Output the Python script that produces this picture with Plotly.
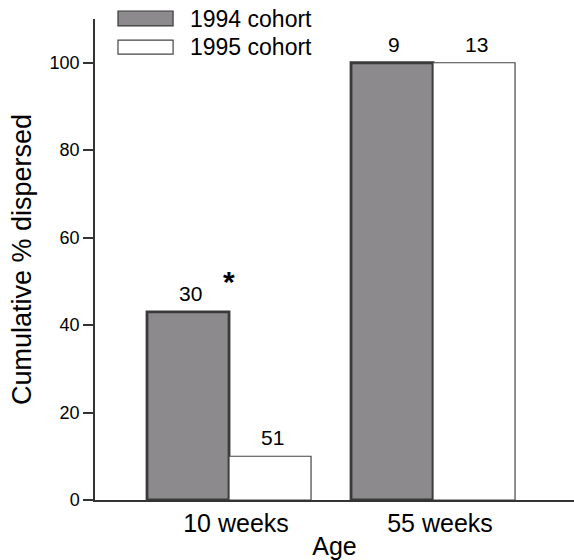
import plotly.graph_objects as go

# Age classes and cumulative dispersal (%) per cohort
ages = ["10 weeks", "55 weeks"]
pct_1994 = [43, 100]
pct_1995 = [10, 100]
# Sample sizes printed above each bar
n_1994 = [30, 9]
n_1995 = [51, 13]
# Significant difference between cohorts at 10 weeks
signif = ["*", ""]

FONT = "Liberation Sans, Arial, sans-serif"
GREY = "#8c8a8c"
EDGE = "#3a3a3a"

pos = list(range(len(ages)))

fig = go.Figure()
fig.add_trace(go.Bar(
    x=pos, y=pct_1994, name="1994 cohort",
    marker=dict(color=GREY, line=dict(color=EDGE, width=2.8)),
))
fig.add_trace(go.Bar(
    x=pos, y=pct_1995, name="1995 cohort",
    marker=dict(color="white", line=dict(color="#444444", width=1.2)),
))

half = 0.201  # half of one bar's width in category units
for i in pos:
    fig.add_annotation(x=i - half, y=pct_1994[i], text=str(n_1994[i]),
                       showarrow=False, yanchor="bottom", yshift=5, xshift=2,
                       font=dict(family=FONT, size=21, color="black"))
    fig.add_annotation(x=i + half, y=pct_1995[i], text=str(n_1995[i]),
                       showarrow=False, yanchor="bottom", yshift=5, xshift=2,
                       font=dict(family=FONT, size=21, color="black"))
    if signif[i]:
        fig.add_annotation(x=i, y=pct_1994[i], text="<b>" + signif[i] + "</b>",
                           showarrow=False, yanchor="bottom", yshift=12,
                           font=dict(family=FONT, size=30, color="black"))

# Hand-drawn key with wide swatches
key = [("1994 cohort", GREY, EDGE, 1.0, 0.9855, 1.0166),
       ("1995 cohort", "white", "#444444", 0.942, 0.927, 0.956)]
for label, fill, edge, ty, y0, y1 in key:
    fig.add_shape(type="rect", xref="paper", yref="paper",
                  x0=0.048, x1=0.163, y0=y0, y1=y1,
                  fillcolor=fill, line=dict(color=edge, width=1.2))
    fig.add_annotation(xref="paper", yref="paper", x=0.194, y=ty,
                       xanchor="left", yanchor="middle", text=label,
                       showarrow=False,
                       font=dict(family=FONT, size=23, color="black"))

fig.update_layout(
    width=574, height=560,
    margin=dict(l=95, r=0, t=19, b=60),
    paper_bgcolor="white", plot_bgcolor="white",
    barmode="group", bargap=0.196, bargroupgap=0,
    showlegend=False,
    font=dict(family=FONT, color="black"),
    xaxis=dict(
        range=[-0.657, 1.691], tickvals=pos, ticktext=ages,
        showline=True, linecolor="#333333", linewidth=1.5,
        ticks="", showgrid=False, zeroline=False,
        ticklabelshift=7,
        tickfont=dict(family=FONT, size=25),
        title=dict(text="Age", font=dict(family=FONT, size=25), standoff=2),
    ),
    yaxis=dict(
        range=[0, 110], tickvals=[0, 20, 40, 60, 80, 100],
        showline=True, linecolor="#333333", linewidth=1.5,
        ticks="outside", ticklen=10, tickcolor="#333333", tickwidth=1.5,
        showgrid=False, zeroline=False,
        tickfont=dict(family=FONT, size=18),
        title=dict(text="Cumulative % dispersed",
                   font=dict(family=FONT, size=27), standoff=10),
    ),
)

fig.write_html("out.html")
